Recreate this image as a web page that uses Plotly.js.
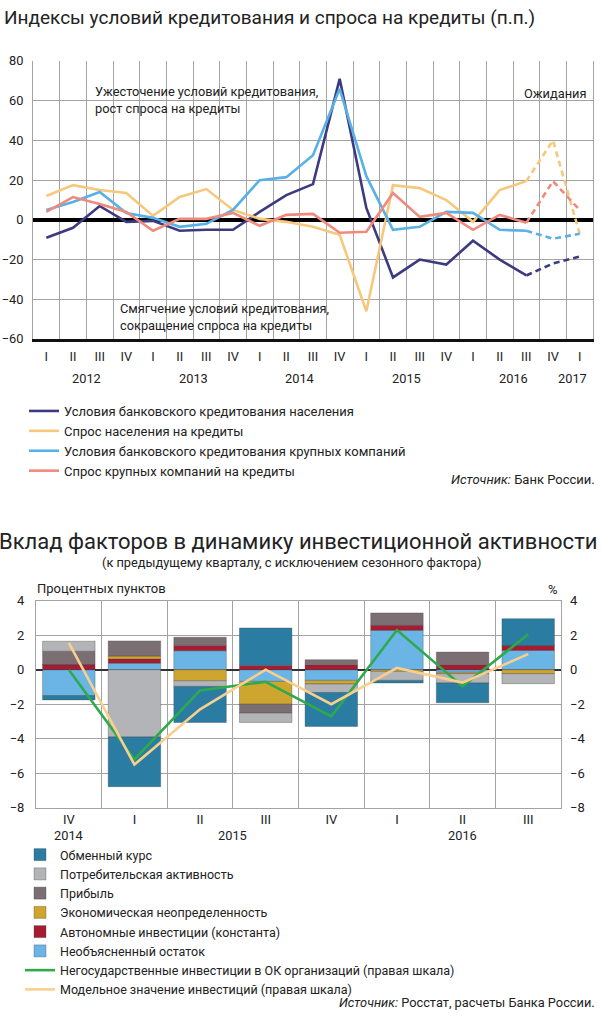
<!DOCTYPE html>
<html>
<head>
<meta charset="utf-8">
<script src="https://cdn.plot.ly/plotly-3.0.1.min.js"></script>
<style>html,body{margin:0;padding:0;background:#fff;}#chart{width:602px;height:1024px;}</style>
</head>
<body>
<div id="chart"></div>
<script>
// ---------- Top chart data ----------
const topQuarters = ["I","II","III","IV","I","II","III","IV","I","II","III","IV","I","II","III","IV","I","II","III","IV","I"];
const topYears = [2012,2012,2012,2012,2013,2013,2013,2013,2014,2014,2014,2014,2015,2015,2015,2015,2016,2016,2016,2016,2017];
const householdConditions = [-9,-4,7,-1,-0.5,-5.5,-5,-5,4,12.5,18,71,6,-29,-20,-22.5,-10.5,-20,-28,-22,-18.5];
const householdDemand     = [12,17.5,15,13.5,2,11.5,15.5,5,0.5,-1,-3.5,-7.5,-46,17.5,16,10,-1,15,19.5,40,-7];
const corporateConditions = [5,9,14,3.5,1,-3.5,-2,5,20,21.5,32.5,66,22,-5,-3.5,4,3.5,-5,-5.5,-9.5,-7];
const corporateDemand     = [4,11.5,8,4,-5.5,0.5,0.5,3.5,-3,2.5,3,-6.5,-6,13.5,1.5,3.5,-5,2.5,-1.5,19.5,5];
const forecastStart = 18; // last actual quarter index (2016 III)
const topSeriesNames = ["Условия банковского кредитования населения","Спрос населения на кредиты","Условия банковского кредитования крупных компаний","Спрос крупных компаний на кредиты"];

// ---------- Bottom chart data ----------
const bottomQuarters = ["IV","I","II","III","IV","I","II","III"];
const bottomYears = [2014,2015,2015,2015,2015,2016,2016,2016];
const exchangeRate   = [-0.25,-2.88,-2.09,2.17,-1.97,-0.15,-1.15,1.55];
const consumerActivity = [0.58,-3.9,-0.33,-0.54,-0.49,-0.52,-0.54,-0.58];
const profit         = [0.77,0.88,0.47,-0.52,0.30,0.72,0.73,0];
const uncertainty    = [0,0.17,-0.64,-1.32,-0.21,-0.10,-0.08,-0.23];
const autonomous     = [0.30,0.24,0.31,0.25,0.28,0.29,0.29,0.29];
const residual       = [-1.5,0.38,1.1,-0.68,-0.62,2.28,-0.15,1.12];
const privateInvestment = [0,-5.2,-1.2,-0.7,-2.7,2.3,-0.97,2.05];
const modelInvestment   = [1.55,-5.5,-2.3,0,-2.0,0.1,-0.75,0.9];

// ---------- helpers ----------
const W = 602, H = 1024;
const px = v => v / W;
const py = v => 1 - v / H;
const FONT = "Roboto, 'Noto Sans', sans-serif";
const topIdx = topQuarters.map((_, i) => i);
const botIdx = bottomQuarters.map((_, i) => i);

const topColors = ["#3d3a80", "#f6c87c", "#58b1e6", "#f08a7c"];
const topData = [householdConditions, householdDemand, corporateConditions, corporateDemand];

const traces = [];
topData.forEach((arr, k) => {
  traces.push({
    type: "scatter", mode: "lines", xaxis: "x", yaxis: "y",
    x: topIdx.slice(0, forecastStart + 1), y: arr.slice(0, forecastStart + 1),
    name: topSeriesNames[k], legend: "legend",
    line: { color: topColors[k], width: 2.6 }
  });
  traces.push({
    type: "scatter", mode: "lines", xaxis: "x", yaxis: "y",
    x: topIdx.slice(forecastStart), y: arr.slice(forecastStart),
    showlegend: false, hoverinfo: "skip",
    line: { color: topColors[k], width: 2.6, dash: "6px,4px" }
  });
});

// Bars: stacking order (nearest zero first)
const barDefs = [
  { name: "Необъясненный остаток", y: residual, color: "#6ab5e6", rank: 6 },
  { name: "Автономные инвестиции (константа)", y: autonomous, color: "#a61c32", rank: 5 },
  { name: "Экономическая неопределенность", y: uncertainty, color: "#cda52f", rank: 4 },
  { name: "Прибыль", y: profit, color: "#7b6f73", rank: 3 },
  { name: "Потребительская активность", y: consumerActivity, color: "#b3b4b7", rank: 2 },
  { name: "Обменный курс", y: exchangeRate, color: "#2a7ca3", rank: 1 }
];
barDefs.forEach(b => {
  traces.push({
    type: "bar", xaxis: "x2", yaxis: "y2", x: botIdx, y: b.y, name: b.name,
    legend: "legend2", legendrank: b.rank, width: 0.8,
    marker: { color: b.color, line: { color: "rgba(60,60,60,0.55)", width: 0.6 } }
  });
});
traces.push({
  type: "scatter", mode: "lines", xaxis: "x2", yaxis: "y3", x: botIdx, y: privateInvestment,
  name: "Негосударственные инвестиции в ОК организаций (правая шкала)", legend: "legend2", legendrank: 7,
  line: { color: "#2eaa4c", width: 2.6 }
});
traces.push({
  type: "scatter", mode: "lines", xaxis: "x2", yaxis: "y3", x: botIdx, y: modelInvestment,
  name: "Модельное значение инвестиций (правая шкала)", legend: "legend2", legendrank: 8,
  line: { color: "#f9cf8d", width: 2.6 }
});

// year labels (centered over their quarters)
function yearAnnotations(years, xref, yPix, lastShift) {
  const groups = {};
  years.forEach((yr, i) => { (groups[yr] = groups[yr] || []).push(i); });
  const keys = Object.keys(groups);
  return keys.map((yr, j) => {
    const idx = groups[yr];
    const c = idx.reduce((a, b) => a + b, 0) / idx.length;
    return { xref: xref, yref: "paper", x: c, y: py(yPix), text: yr, showarrow: false,
      xshift: (j === keys.length - 1 && idx.length === 1) ? lastShift : 0,
      xanchor: "center", yanchor: "middle", font: { size: 12.8, color: "#222", family: FONT } };
  });
}

const annotations = [
  { xref: "paper", yref: "paper", x: px(2), y: py(17), text: "Индексы условий кредитования и спроса на кредиты (п.п.)",
    showarrow: false, xanchor: "left", yanchor: "middle", font: { size: 19, color: "#222", family: FONT } },
  { xref: "paper", yref: "paper", x: px(93), y: py(100), text: "Ужесточение условий кредитования,<br>рост спроса на кредиты",
    showarrow: false, xanchor: "left", yanchor: "middle", align: "left", font: { size: 12.8, color: "#222", family: FONT } },
  { xref: "paper", yref: "paper", x: px(118), y: py(317), text: "Смягчение условий кредитования,<br>сокращение спроса на кредиты",
    showarrow: false, xanchor: "left", yanchor: "middle", align: "left", font: { size: 12.8, color: "#222", family: FONT } },
  { xref: "paper", yref: "paper", x: px(588), y: py(93), text: "Ожидания",
    showarrow: false, xanchor: "right", yanchor: "middle", font: { size: 12.8, color: "#222", family: FONT } },
  { xref: "paper", yref: "paper", x: px(597), y: py(479), text: "<i>Источник:</i> Банк России.",
    showarrow: false, xanchor: "right", yanchor: "middle", font: { size: 13, color: "#222", family: FONT } },
  { xref: "paper", yref: "paper", x: px(298), y: py(541), text: "Вклад факторов в динамику инвестиционной активности",
    showarrow: false, xanchor: "center", yanchor: "middle", font: { size: 22, color: "#222", family: FONT } },
  { xref: "paper", yref: "paper", x: px(292), y: py(562), text: "(к предыдущему кварталу, с исключением сезонного фактора)",
    showarrow: false, xanchor: "center", yanchor: "middle", font: { size: 12.8, color: "#222", family: FONT } },
  { xref: "paper", yref: "paper", x: px(35), y: py(588), text: "Процентных пунктов",
    showarrow: false, xanchor: "left", yanchor: "middle", font: { size: 13, color: "#222", family: FONT } },
  { xref: "paper", yref: "paper", x: px(560), y: py(589), text: "%",
    showarrow: false, xanchor: "right", yanchor: "middle", font: { size: 13, color: "#222", family: FONT } },
  { xref: "paper", yref: "paper", x: px(597), y: py(1002), text: "<i>Источник:</i> Росстат, расчеты Банка России.",
    showarrow: false, xanchor: "right", yanchor: "middle", font: { size: 12.8, color: "#222", family: FONT } }
].concat(yearAnnotations(topYears, "x", 378, -7)).concat(yearAnnotations(bottomYears, "x2", 835, 0));

const gridC = "#a3a3a3";
const layout = {
  width: W, height: H,
  margin: { l: 0, r: 0, t: 0, b: 0 },
  paper_bgcolor: "#fff", plot_bgcolor: "#fff",
  font: { family: FONT, size: 12, color: "#222" },
  barmode: "relative",
  showlegend: true,
  xaxis: {
    domain: [px(33), px(593)], range: [-0.5, 20.5], anchor: "y",
    tickmode: "array", tickvals: topIdx, ticktext: topQuarters,
    showgrid: false, zeroline: false, ticks: "",
    minor: { tickmode: "linear", tick0: 0.5, dtick: 1, showgrid: true, gridcolor: gridC, gridwidth: 1, ticks: "" },
    showline: true, linecolor: "#111", linewidth: 2.5,
    tickfont: { size: 12.8, color: "#222" }, ticklabelstandoff: 4, fixedrange: true
  },
  yaxis: {
    domain: [py(339), py(61)], range: [-60, 80], anchor: "x",
    tickmode: "linear", tick0: 0, dtick: 20,
    showgrid: true, gridcolor: gridC, gridwidth: 1,
    zeroline: true, zerolinecolor: "#000", zerolinewidth: 3.5,
    showline: true, linecolor: gridC, linewidth: 1, mirror: true, ticks: "",
    tickfont: { size: 12.8, color: "#222" }, ticklabelstandoff: 6, fixedrange: true
  },
  xaxis2: {
    domain: [px(36), px(561)], range: [-0.5, 7.5], anchor: "y2",
    tickmode: "array", tickvals: botIdx, ticktext: bottomQuarters,
    showgrid: false, zeroline: false, ticks: "",
    minor: { tickmode: "linear", tick0: 0.5, dtick: 1, showgrid: true, gridcolor: gridC, gridwidth: 1, ticks: "" },
    showline: true, linecolor: gridC, linewidth: 1, mirror: true,
    tickfont: { size: 13, color: "#222" }, ticklabelstandoff: 0, fixedrange: true
  },
  yaxis2: {
    domain: [py(807.7), py(600.7)], range: [-8, 4], anchor: "x2",
    tickmode: "linear", tick0: 0, dtick: 2,
    showgrid: true, gridcolor: gridC, gridwidth: 1,
    zeroline: true, zerolinecolor: "#333", zerolinewidth: 2,
    showline: true, linecolor: gridC, linewidth: 1, mirror: true, ticks: "",
    tickfont: { size: 13, color: "#222" }, ticklabelstandoff: 8, fixedrange: true
  },
  yaxis3: {
    overlaying: "y2", side: "right", anchor: "x2", range: [-8, 4],
    tickmode: "linear", tick0: 0, dtick: 2, showgrid: false, zeroline: false,
    showline: false, ticks: "",
    tickfont: { size: 13, color: "#222" }, ticklabelstandoff: 8, fixedrange: true
  },
  legend: {
    x: px(24), y: py(396), xanchor: "left", yanchor: "top",
    bgcolor: "rgba(0,0,0,0)", font: { size: 13, color: "#222" },
    tracegroupgap: 0, itemwidth: 30, traceorder: "normal"
  },
  legend2: {
    x: px(20), y: py(840), xanchor: "left", yanchor: "top",
    bgcolor: "rgba(0,0,0,0)", font: { size: 12.5, color: "#222" },
    tracegroupgap: 0, itemwidth: 30, traceorder: "normal"
  },
  annotations: annotations
};

Plotly.newPlot("chart", traces, layout, { displayModeBar: false, staticPlot: true });
</script>
</body>
</html>
